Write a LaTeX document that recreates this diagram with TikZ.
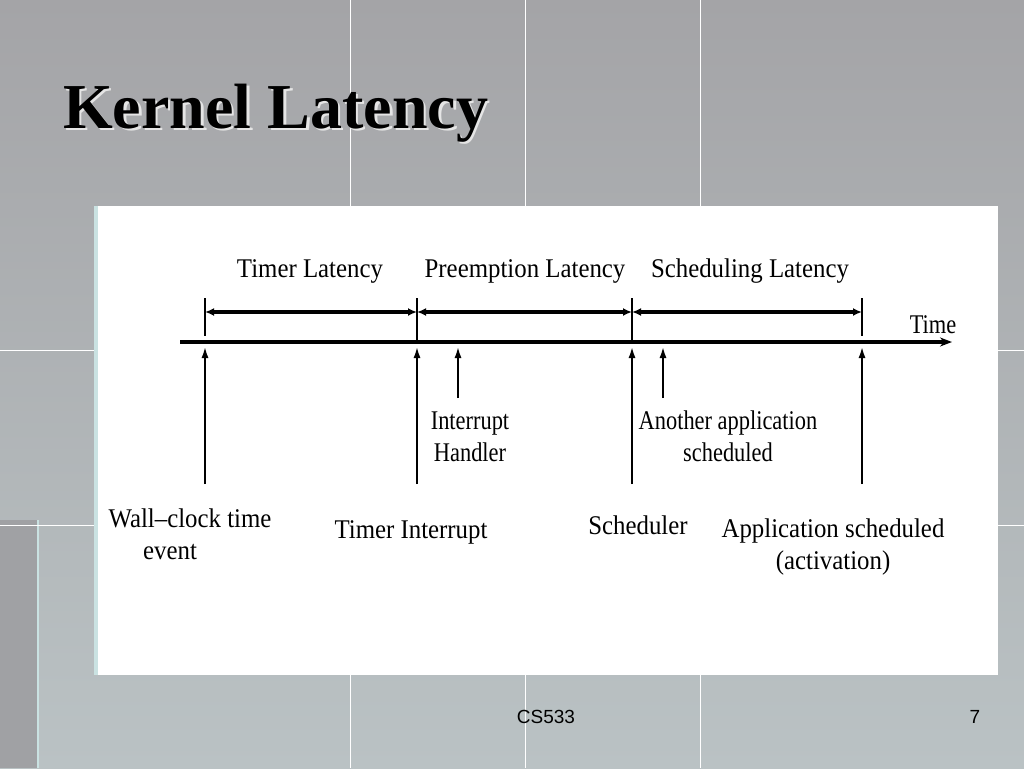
\documentclass[tikz,border=0pt]{standalone}
\usepackage{fontspec}
\setmainfont[FakeStretch=0.92]{Liberation Serif}
\newfontfamily\condfont[FakeStretch=0.83]{Liberation Serif}
\newfontfamily\titlefont{Liberation Serif}
\newfontfamily\footfont{Liberation Sans}
\usetikzlibrary{arrows.meta}
\definecolor{bgtop}{RGB}{164,164,167}
\definecolor{bgbot}{RGB}{186,194,196}
\definecolor{bgstrip}{RGB}{160,161,164}
\definecolor{paleedge}{RGB}{202,226,226}
\newcommand{\shadowtext}[1]{\makebox[0pt][l]{\hspace*{2.5pt}\raisebox{-2.5pt}{\textcolor{white!80!gray}{#1}}}#1}
\tikzset{
  lbl/.style={anchor=base, align=center, inner sep=0pt, font=\fontsize{27}{31.5}\selectfont},
  cond/.style={anchor=base, align=center, inner sep=0pt, font=\condfont\fontsize{27}{31.5}\selectfont},
  axisline/.style={line width=3.5pt, -{Stealth[length=12pt,width=9pt]}},
  dimline/.style={line width=3.5pt, {Latex[length=9pt,width=8pt]}-{Latex[length=9pt,width=8pt]}},
  tickline/.style={line width=2.8pt},
  eventline/.style={line width=2.8pt, -{Latex[length=12pt,width=7pt]}},
  gridline/.style={white, line width=1pt},
  titlestyle/.style={anchor=base west, inner sep=0pt, font=\titlefont\bfseries\fontsize{64}{70}\selectfont},
  footstyle/.style={anchor=base, inner sep=0pt, font=\footfont\fontsize{19}{22}\selectfont}
}
\begin{document}
\begin{tikzpicture}[x=1pt,y=-1pt]
\useasboundingbox (0,0) rectangle (1024,768);
% background
\fill[top color=bgtop, bottom color=bgbot] (0,0) rectangle (1024,768);
\fill[bgstrip] (0,520) rectangle (38,768);
\draw[paleedge, line width=2pt] (38,520) -- (38,768);
\foreach \gx in {350,525,700} \draw[gridline] (\gx,0) -- (\gx,768);
\foreach \gy in {350,525} \draw[gridline] (0,\gy) -- (1024,\gy);
% title
\node[titlestyle] (title) at (63,128) {\shadowtext{Kernel Latency}};
% panel
\fill[paleedge] (94,206) rectangle (100,675);
\fill[white] (98,206) rectangle (998,675);
% coordinates
\coordinate (ax0) at (180,342);
\coordinate (ax1) at (952,342);
\coordinate (k1) at (205,312);
\coordinate (k2) at (417,312);
\coordinate (k3) at (632,312);
\coordinate (k4) at (862,312);
% ticks above axis
\foreach \tx/\te in {205/336,417/342,632/342,862/336}
  \draw[tickline] (\tx,298) -- (\tx,\te);
% dimension lines
\draw[dimline] (k1) -- (k2);
\draw[dimline] (k2) -- (k3);
\draw[dimline] (k3) -- (k4);
% axis
\draw[axisline] (ax0) -- (ax1);
% event lines
\coordinate (e1a) at (205,484); \coordinate (e1b) at (205,346);
\coordinate (e2a) at (417,484); \coordinate (e2b) at (417,346);
\coordinate (e3a) at (458,398); \coordinate (e3b) at (458,346);
\coordinate (e4a) at (632,484); \coordinate (e4b) at (632,346);
\coordinate (e5a) at (663,398); \coordinate (e5b) at (663,346);
\coordinate (e6a) at (862,484); \coordinate (e6b) at (862,346);
\draw[eventline] (e1a) -- (e1b);
\draw[eventline] (e2a) -- (e2b);
\draw[eventline] (e3a) -- (e3b);
\draw[eventline] (e4a) -- (e4b);
\draw[eventline] (e5a) -- (e5b);
\draw[eventline] (e6a) -- (e6b);
% labels (multi-line nodes: base = baseline of last line)
\node[lbl] (tl) at (310,277) {Timer Latency};
\node[lbl] (pl) at (525,277) {Preemption Latency};
\node[lbl] (sl) at (750,277) {Scheduling Latency};
\node[cond] (time) at (933,333) {Time};
\node[cond] (ih) at (470,461) {Interrupt\\Handler};
\node[cond] (aa) at (728,461) {Another application\\scheduled};
\node[lbl] (wc) at (190,559) {Wall–clock time\\event\hspace*{40pt}};
\node[lbl] (ti) at (411,538) {Timer Interrupt};
\node[lbl] (sc) at (638,534) {Scheduler};
\node[lbl] (as) at (833,569) {Application scheduled\\(activation)};
% footer
\node[footstyle] (cs) at (546,723) {CS533};
\node[footstyle] (pg) at (975,723) {7};
\end{tikzpicture}
\end{document}
